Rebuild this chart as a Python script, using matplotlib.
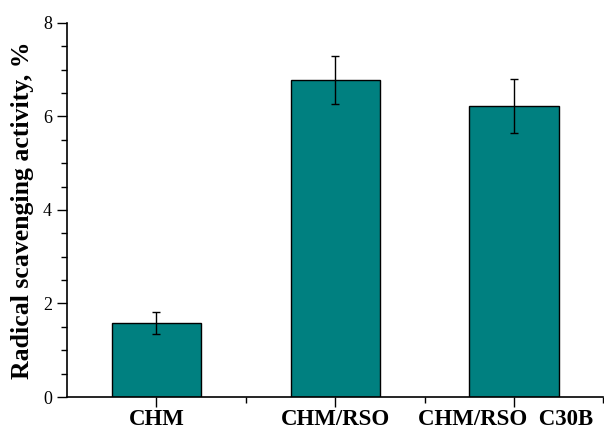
import matplotlib

matplotlib.use("Agg")

import matplotlib.pyplot as plt
import matplotlib.transforms as mtransforms
from matplotlib.ticker import MultipleLocator, FixedLocator

samples = ["CHM", "CHM/RSO", "CHM/RSO  C30B"]
activity = [1.58, 6.78, 6.22]
activity_err = [0.23, 0.51, 0.58]

plt.rcParams["font.family"] = ["Liberation Serif", "DejaVu Serif"]

fig = plt.figure(figsize=(6.04, 4.30), dpi=100)
ax = fig.add_axes([0.111, 0.0767, 0.888, 0.87])

pos = list(range(1, len(samples) + 1))
ax.bar(pos, activity, width=0.5, color="#008080", edgecolor="black", linewidth=1.0,
       yerr=activity_err, capsize=3,
       error_kw={"elinewidth": 1.0, "capthick": 1.0, "ecolor": "black"})

ax.set_xlim(0.5, 3.5)
ax.set_ylim(0, 8)
ax.set_xticks(pos)
ax.set_xticklabels(samples, fontsize=16.5, fontweight="bold", va="baseline")
ax.xaxis.set_minor_locator(FixedLocator([1.5, 2.5, 3.5]))
ax.yaxis.set_major_locator(MultipleLocator(2))
ax.yaxis.set_minor_locator(MultipleLocator(0.5))
ax.tick_params(axis="y", which="major", labelsize=13, length=7, width=1.0, pad=4)
ax.tick_params(axis="both", which="minor", length=4, width=1.0)
ax.tick_params(axis="x", which="major", length=7, width=1.0, pad=13)

# the long last label is nudged left so it stays inside the figure
last = ax.get_xticklabels()[-1]
last.set_transform(last.get_transform() + mtransforms.ScaledTranslation(-8 / 100, 0, fig.dpi_scale_trans))

ax.set_ylabel("Radical scavenging activity, %", fontsize=18.5, fontweight="bold", labelpad=6)

for side in ["top", "right"]:
    ax.spines[side].set_visible(False)
for side in ["left", "bottom"]:
    ax.spines[side].set_linewidth(1.2)

fig.savefig("out.png", dpi=100, facecolor="white")
